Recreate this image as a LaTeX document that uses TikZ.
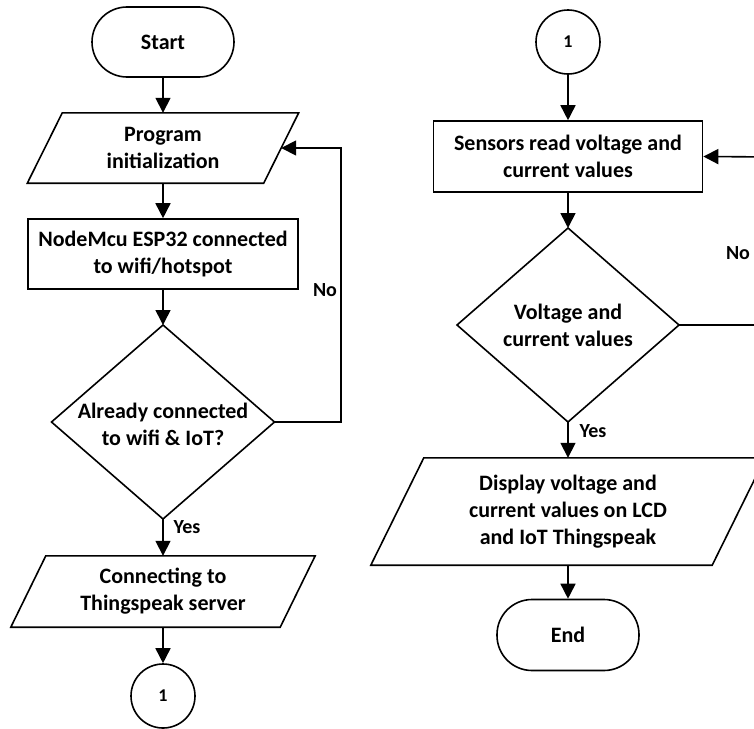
\documentclass[tikz,border=0pt]{standalone}
\usepackage{fontspec}
\setmainfont{Carlito}
\usetikzlibrary{arrows.meta,calc}
\begin{document}
\begin{tikzpicture}[x=1pt,y=-1pt,
  every node/.style={font=\fontsize{22}{27}\selectfont\bfseries, align=center, inner sep=0pt},
  shapeline/.style={draw=black, line width=1.6pt},
  arr/.style={line width=1.6pt, -{Triangle[length=15pt,width=15pt]}},
  lbl/.style={font=\fontsize{20}{24}\selectfont\bfseries},
  term/.style={shapeline, rectangle, rounded corners=35pt, minimum width=142pt, minimum height=70pt},
  proc/.style={shapeline, rectangle, minimum height=70pt},
  conn/.style={shapeline, circle, minimum size=64pt, font=\fontsize{18}{22}\selectfont\bfseries},
  area/.style={rectangle}]
\useasboundingbox (0,0) rectangle (754,728);
\clip (0,0) rectangle (754,728);

% ---------- left column ----------
\node[term] (start) at (163,42) {Start};
\node[area, minimum width=236pt, minimum height=70pt] (prog) at (163,148) {Program\\initialization};
\draw[shapeline] ($(prog.north west)+(17.5,0)$) -- ($(prog.north east)+(17.5,0)$)
  -- ($(prog.south east)+(-17.5,0)$) -- ($(prog.south west)+(-17.5,0)$) -- cycle;
\node[proc, minimum width=270pt] (esp) at (163,254) {NodeMcu ESP32 connected\\to wifi/hotspot};
\node[area, minimum width=223pt, minimum height=194pt] (dec1) at (163,422) {\\[-6pt]Already connected\\to wifi \& IoT?};
\coordinate (d1n) at (163,325);
\coordinate (d1e) at (274.5,422);
\coordinate (d1s) at (163,519);
\coordinate (d1w) at (51.5,422);
\draw[shapeline] (d1n) -- (d1e) -- (d1s) -- (d1w) -- cycle;
\node[area, minimum width=269pt, minimum height=71pt] (thing) at (163,591.5) {Connecting to\\Thingspeak server};
\draw[shapeline] ($(thing.north west)+(17.5,0)$) -- ($(thing.north east)+(17.5,0)$)
  -- ($(thing.south east)+(-17.5,0)$) -- ($(thing.south west)+(-17.5,0)$) -- cycle;
\node[conn] (c1) at (163,696) {1};

% ---------- right column ----------
\node[conn] (c2) at (568,42) {1};
\node[proc, minimum width=269pt, minimum height=71pt] (sens) at (568,156.5) {Sensors read voltage and\\current values};
\node[area, minimum width=222pt, minimum height=194pt] (dec2) at (568,325) {Voltage and\\current values};
\coordinate (d2n) at (568,228);
\coordinate (d2e) at (679,325);
\coordinate (d2s) at (568,422);
\coordinate (d2w) at (457,325);
\draw[shapeline] (d2n) -- (d2e) -- (d2s) -- (d2w) -- cycle;
\node[area, minimum width=341pt, minimum height=107pt] (disp) at (568,511.5) {Display voltage and\\current values on LCD\\and IoT Thingspeak};
\draw[shapeline] ($(disp.north west)+(26.5,0)$) -- ($(disp.north east)+(26.5,0)$)
  -- ($(disp.south east)+(-26.5,0)$) -- ($(disp.south west)+(-26.5,0)$) -- cycle;
\node[term, minimum height=71pt] (end) at (568,635) {End};

% ---------- connectors ----------
\draw[arr] (start.south) -- (prog.north);
\draw[arr] (prog.south) -- (esp.north);
\draw[arr] (esp.south) -- (d1n);
\draw[arr] (d1s) -- (thing.north);
\draw[arr] (thing.south) -- (c1.north);
\coordinate (l1) at (341,422);
\coordinate (l2) at (341,148);
\draw[arr] (d1e) -- (l1) -- (l2) -- (prog.east);
\node[lbl] (no1) at (325,290) {No};
\node[lbl] (yes1) at (187,527) {Yes};

\draw[arr] (c2.south) -- (sens.north);
\draw[arr] (sens.south) -- (d2n);
\draw[arr] (d2s) -- (disp.north);
\draw[arr] (disp.south) -- (end.north);
\coordinate (r1) at (775,325);
\coordinate (r2) at (775,157);
\draw[arr] (d2e) -- (r1) -- (r2) -- (sens.east);
\node[lbl] (no2) at (738,253) {No};
\node[lbl] (yes2) at (593,431) {Yes};
\end{tikzpicture}
\end{document}
